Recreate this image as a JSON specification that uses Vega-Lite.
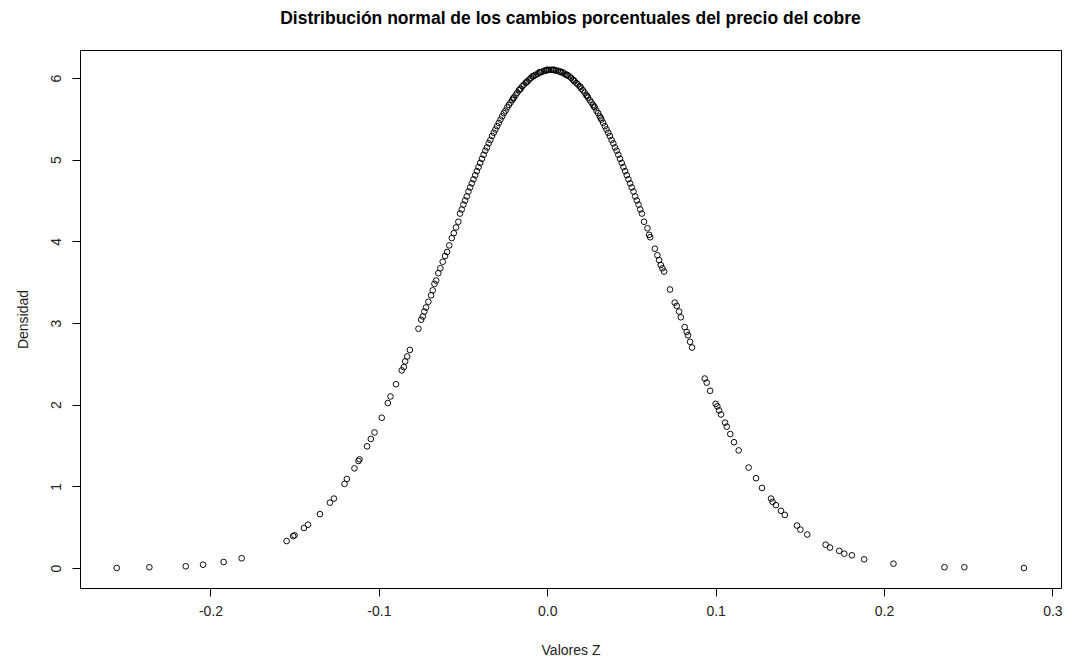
{
  "$schema": "https://vega.github.io/schema/vega-lite/v6.json",
  "autosize": "none",
  "width": 981,
  "height": 538,
  "padding": {"left": 80, "top": 50, "right": 6, "bottom": 72},
  "background": "white",
  "config": {
    "view": {"stroke": "black", "strokeWidth": 1},
    "font": "Liberation Sans"
  },
  "title": {
    "text": "Distribución normal de los cambios porcentuales del precio del cobre",
    "font": "Liberation Sans",
    "fontSize": 17.5,
    "fontWeight": "bold",
    "color": "black",
    "anchor": "middle",
    "offset": 23
  },
  "data": {
    "values": [
      {"z": -0.2557, "d": 0.0}, {"z": -0.2363, "d": 0.009}, {"z": -0.2147, "d": 0.021}, {"z": -0.2044, "d": 0.04},
      {"z": -0.1922, "d": 0.073}, {"z": -0.1815, "d": 0.119}, {"z": -0.1548, "d": 0.33}, {"z": -0.1509, "d": 0.39},
      {"z": -0.1501, "d": 0.4}, {"z": -0.1445, "d": 0.49}, {"z": -0.1421, "d": 0.53}, {"z": -0.135, "d": 0.66},
      {"z": -0.1291, "d": 0.8}, {"z": -0.1267, "d": 0.85}, {"z": -0.1204, "d": 1.03}, {"z": -0.119, "d": 1.09},
      {"z": -0.1145, "d": 1.22}, {"z": -0.1121, "d": 1.31}, {"z": -0.1115, "d": 1.33}, {"z": -0.107, "d": 1.49},
      {"z": -0.1048, "d": 1.58}, {"z": -0.1026, "d": 1.66}, {"z": -0.0983, "d": 1.84}, {"z": -0.0947, "d": 2.02},
      {"z": -0.0931, "d": 2.1}, {"z": -0.0898, "d": 2.25}, {"z": -0.0864, "d": 2.42}, {"z": -0.0852, "d": 2.46},
      {"z": -0.0844, "d": 2.53}, {"z": -0.0832, "d": 2.59}, {"z": -0.0816, "d": 2.67}, {"z": -0.0765, "d": 2.93},
      {"z": -0.0749, "d": 3.04}, {"z": -0.0739, "d": 3.08}, {"z": -0.073, "d": 3.14}, {"z": -0.072, "d": 3.19},
      {"z": -0.0706, "d": 3.26}, {"z": -0.069, "d": 3.34}, {"z": -0.068, "d": 3.4}, {"z": -0.067, "d": 3.48},
      {"z": -0.066, "d": 3.52}, {"z": -0.0647, "d": 3.61}, {"z": -0.0635, "d": 3.67}, {"z": -0.0621, "d": 3.75},
      {"z": -0.0607, "d": 3.82}, {"z": -0.0595, "d": 3.87}, {"z": -0.0582, "d": 3.95}, {"z": -0.0567, "d": 4.04},
      {"z": -0.0555, "d": 4.1}, {"z": -0.0542, "d": 4.17}, {"z": -0.0528, "d": 4.24},
      {"z": -0.0518, "d": 4.34}, {"z": -0.0508, "d": 4.39}, {"z": -0.0498, "d": 4.45}, {"z": -0.0488, "d": 4.5}, {"z": -0.0478, "d": 4.55},
      {"z": -0.0468, "d": 4.61}, {"z": -0.0458, "d": 4.66}, {"z": -0.0448, "d": 4.71}, {"z": -0.0438, "d": 4.76}, {"z": -0.0428, "d": 4.81},
      {"z": -0.0418, "d": 4.86}, {"z": -0.0408, "d": 4.91}, {"z": -0.0398, "d": 4.96}, {"z": -0.0388, "d": 5.01}, {"z": -0.0378, "d": 5.06}, {"z": -0.0368, "d": 5.11},
      {"z": -0.0358, "d": 5.15}, {"z": -0.0348, "d": 5.2}, {"z": -0.0338, "d": 5.24}, {"z": -0.0328, "d": 5.29}, {"z": -0.0318, "d": 5.33},
      {"z": -0.0308, "d": 5.37}, {"z": -0.0298, "d": 5.41}, {"z": -0.0288, "d": 5.45}, {"z": -0.0278, "d": 5.49}, {"z": -0.0268, "d": 5.53},
      {"z": -0.0258, "d": 5.57}, {"z": -0.0248, "d": 5.6}, {"z": -0.0238, "d": 5.64}, {"z": -0.0228, "d": 5.67}, {"z": -0.0218, "d": 5.7}, {"z": -0.0208, "d": 5.73}, {"z": -0.0203, "d": 5.75}, {"z": -0.0198, "d": 5.76},
      {"z": -0.0188, "d": 5.79}, {"z": -0.0178, "d": 5.82}, {"z": -0.0168, "d": 5.85}, {"z": -0.0163, "d": 5.86}, {"z": -0.0158, "d": 5.87}, {"z": -0.0148, "d": 5.9},
      {"z": -0.0138, "d": 5.92}, {"z": -0.0128, "d": 5.94}, {"z": -0.0123, "d": 5.95}, {"z": -0.0118, "d": 5.96}, {"z": -0.0108, "d": 5.98}, {"z": -0.0098, "d": 6.0}, {"z": -0.0088, "d": 6.02},
      {"z": -0.0083, "d": 6.02}, {"z": -0.0078, "d": 6.03}, {"z": -0.0068, "d": 6.04}, {"z": -0.0058, "d": 6.05}, {"z": -0.0048, "d": 6.07}, {"z": -0.0043, "d": 6.07}, {"z": -0.0038, "d": 6.07},
      {"z": -0.0028, "d": 6.08}, {"z": -0.0018, "d": 6.09}, {"z": -0.0008, "d": 6.09}, {"z": -0.0003, "d": 6.1}, {"z": 0.0002, "d": 6.1}, {"z": 0.0012, "d": 6.1},
      {"z": 0.0022, "d": 6.1}, {"z": 0.0032, "d": 6.1}, {"z": 0.0037, "d": 6.1}, {"z": 0.0042, "d": 6.1}, {"z": 0.0052, "d": 6.09},
      {"z": 0.0062, "d": 6.09}, {"z": 0.0072, "d": 6.08}, {"z": 0.0077, "d": 6.08}, {"z": 0.0082, "d": 6.07}, {"z": 0.0092, "d": 6.07},
      {"z": 0.0102, "d": 6.05}, {"z": 0.0112, "d": 6.04}, {"z": 0.0117, "d": 6.04}, {"z": 0.0122, "d": 6.03}, {"z": 0.0132, "d": 6.02}, {"z": 0.0142, "d": 6.0},
      {"z": 0.0152, "d": 5.98}, {"z": 0.0157, "d": 5.97}, {"z": 0.0162, "d": 5.96}, {"z": 0.0172, "d": 5.94}, {"z": 0.0182, "d": 5.92}, {"z": 0.0192, "d": 5.9}, {"z": 0.0197, "d": 5.89},
      {"z": 0.0202, "d": 5.87}, {"z": 0.0212, "d": 5.85}, {"z": 0.0222, "d": 5.82}, {"z": 0.0232, "d": 5.79}, {"z": 0.0237, "d": 5.78}, {"z": 0.0242, "d": 5.76},
      {"z": 0.0252, "d": 5.73}, {"z": 0.0262, "d": 5.7}, {"z": 0.0272, "d": 5.67}, {"z": 0.0277, "d": 5.65}, {"z": 0.0282, "d": 5.64}, {"z": 0.0292, "d": 5.6}, {"z": 0.0302, "d": 5.57},
      {"z": 0.0312, "d": 5.53}, {"z": 0.0317, "d": 5.51}, {"z": 0.0322, "d": 5.49}, {"z": 0.0332, "d": 5.45}, {"z": 0.0342, "d": 5.41}, {"z": 0.0352, "d": 5.37},
      {"z": 0.0362, "d": 5.33}, {"z": 0.0372, "d": 5.29}, {"z": 0.0382, "d": 5.24}, {"z": 0.0392, "d": 5.2}, {"z": 0.0402, "d": 5.15},
      {"z": 0.0412, "d": 5.11}, {"z": 0.0422, "d": 5.06}, {"z": 0.0432, "d": 5.01}, {"z": 0.0442, "d": 4.96}, {"z": 0.0452, "d": 4.91}, {"z": 0.0462, "d": 4.86},
      {"z": 0.0472, "d": 4.81}, {"z": 0.0482, "d": 4.76}, {"z": 0.0492, "d": 4.71}, {"z": 0.0502, "d": 4.66}, {"z": 0.0512, "d": 4.61},
      {"z": 0.0522, "d": 4.55}, {"z": 0.0532, "d": 4.5}, {"z": 0.0542, "d": 4.45}, {"z": 0.0552, "d": 4.39}, {"z": 0.0562, "d": 4.34},
      {"z": 0.0575, "d": 4.24}, {"z": 0.0595, "d": 4.16}, {"z": 0.0605, "d": 4.08}, {"z": 0.0611, "d": 4.05},
      {"z": 0.0639, "d": 3.91}, {"z": 0.0654, "d": 3.83}, {"z": 0.0664, "d": 3.77}, {"z": 0.0674, "d": 3.71},
      {"z": 0.0684, "d": 3.67}, {"z": 0.0694, "d": 3.63}, {"z": 0.0729, "d": 3.41}, {"z": 0.0757, "d": 3.25},
      {"z": 0.0769, "d": 3.21}, {"z": 0.0783, "d": 3.14}, {"z": 0.0793, "d": 3.07}, {"z": 0.0816, "d": 2.95},
      {"z": 0.0828, "d": 2.89}, {"z": 0.0836, "d": 2.85}, {"z": 0.0848, "d": 2.77}, {"z": 0.086, "d": 2.7},
      {"z": 0.0935, "d": 2.32}, {"z": 0.0947, "d": 2.27}, {"z": 0.0967, "d": 2.17},
      {"z": 0.1, "d": 2.01}, {"z": 0.101, "d": 1.98}, {"z": 0.102, "d": 1.93}, {"z": 0.1032, "d": 1.88},
      {"z": 0.1056, "d": 1.78}, {"z": 0.1066, "d": 1.73}, {"z": 0.1087, "d": 1.64}, {"z": 0.1109, "d": 1.54},
      {"z": 0.1137, "d": 1.44}, {"z": 0.1196, "d": 1.23}, {"z": 0.124, "d": 1.1}, {"z": 0.1275, "d": 0.98},
      {"z": 0.1329, "d": 0.85}, {"z": 0.1338, "d": 0.81}, {"z": 0.1358, "d": 0.77}, {"z": 0.1388, "d": 0.7},
      {"z": 0.1411, "d": 0.65}, {"z": 0.1483, "d": 0.52}, {"z": 0.1503, "d": 0.47}, {"z": 0.1544, "d": 0.41},
      {"z": 0.1653, "d": 0.285}, {"z": 0.1679, "d": 0.25}, {"z": 0.1734, "d": 0.21}, {"z": 0.1764, "d": 0.175},
      {"z": 0.1809, "d": 0.155}, {"z": 0.1882, "d": 0.106}, {"z": 0.2056, "d": 0.053}, {"z": 0.2359, "d": 0.009},
      {"z": 0.2477, "d": 0.009}, {"z": 0.2831, "d": 0.0}
    ]
  },
  "mark": {"type": "point", "shape": "circle", "filled": false, "stroke": "black", "strokeWidth": 0.95, "size": 32, "opacity": 1, "clip": true},
  "encoding": {
    "x": {
      "field": "z",
      "type": "quantitative",
      "scale": {"domain": [-0.2775, 0.3051], "nice": false, "zero": false},
      "axis": {
        "title": "Valores Z",
        "values": [-0.2, -0.1, 0, 0.1, 0.2, 0.3],
        "format": ".1f",
        "labelExpr": "replace(datum.label, '−', '-')",
        "grid": false,
        "domain": false,
        "tickColor": "black",
        "tickSize": 8,
        "tickWidth": 1,
        "labelFont": "Liberation Sans",
        "labelFontSize": 14,
        "labelColor": "#222",
        "labelPadding": 8,
        "labelFlush": false,
        "labelOverlap": false,
        "titleFont": "Liberation Sans",
        "titleFontSize": 14,
        "titleFontWeight": "normal",
        "titleColor": "#222",
        "titlePadding": 25
      }
    },
    "y": {
      "field": "d",
      "type": "quantitative",
      "scale": {"domain": [-0.245, 6.343], "nice": false, "zero": false},
      "axis": {
        "title": "Densidad",
        "values": [0, 1, 2, 3, 4, 5, 6],
        "format": "d",
        "grid": false,
        "domain": false,
        "tickColor": "black",
        "tickSize": 8,
        "tickWidth": 1,
        "labelAngle": -90,
        "labelAlign": "center",
        "labelBaseline": "bottom",
        "labelFont": "Liberation Sans",
        "labelFontSize": 14,
        "labelColor": "#222",
        "labelPadding": 9,
        "labelFlush": false,
        "labelOverlap": false,
        "titleFont": "Liberation Sans",
        "titleFontSize": 14,
        "titleFontWeight": "normal",
        "titleColor": "#222",
        "titlePadding": 19
      }
    }
  }
}
